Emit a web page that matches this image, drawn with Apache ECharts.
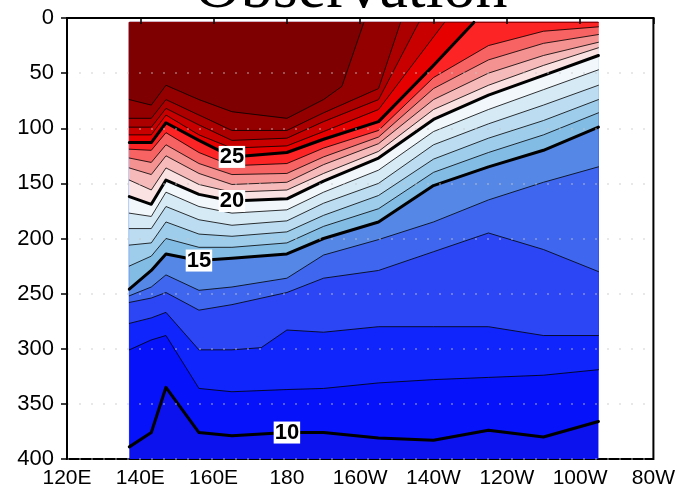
<!DOCTYPE html>
<html>
<head>
<meta charset="utf-8">
<script src="https://cdn.jsdelivr.net/npm/echarts@6/dist/echarts.min.js"></script>
<style>
  html, body { margin: 0; padding: 0; background: #fff; }
  #chart { width: 678px; height: 494px; }
</style>
</head>
<body>
<div id="chart"></div>
<script>
// Equatorial upper-ocean temperature section (deg C): longitude against depth.
// Each isotherm is a list of [longitude (deg E, 0-360), depth (m)] points.
// A point at surfaceDepth marks where the isotherm reaches the surface.
const surfaceDepth = 4;
const bottomDepth = 400;
const westLon = 137;
const eastLon = 265;

const isotherm10 = [[137,389],[143,376],[147,335],[156,376],[165,379],[180,376],[190,376],[205,381],[220,383],[235,374],[250,380],[265,366]];
const isotherm11 = [[137,301],[143,292],[147,288],[156,336],[165,339],[180,337],[190,336],[205,331],[220,328],[235,326],[250,324],[265,319]];
const isotherm12 = [[137,277],[143,272],[147,267],[156,301],[165,301],[173,299],[180,283],[190,285],[205,280],[220,280],[235,280],[250,288],[265,288]];
const isotherm13 = [[137,258],[143,254],[147,249],[156,265],[165,260],[180,249],[190,236],[205,229],[220,212],[235,195],[250,210],[265,230]];
const isotherm14 = [[137,252],[143,244],[147,233],[156,247],[165,244],[180,236],[190,215],[205,201],[220,185],[235,165],[250,149],[265,135]];
const isotherm15 = [[137,246],[143,229],[147,214],[156,220],[165,218],[180,214],[190,200],[205,185],[220,152],[235,135],[250,120],[265,99]];
const isotherm16 = [[137,225],[143,216],[147,200],[156,208],[165,208],[180,204],[190,189],[205,173],[220,140],[235,122],[250,106],[265,86]];
const isotherm17 = [[137,206],[143,204],[147,185],[156,196],[165,198],[180,194],[190,179],[205,161],[220,128],[235,109],[250,93],[265,74]];
const isotherm18 = [[137,191],[143,191],[147,171],[156,183],[165,188],[180,184],[190,168],[205,150],[220,115],[235,96],[250,79],[265,61]];
const isotherm19 = [[137,177],[143,180],[147,158],[156,171],[165,177],[180,174],[190,158],[205,138],[220,103],[235,83],[250,65],[265,47]];
const isotherm20 = [[137,162],[143,169],[147,147],[156,160],[165,166],[180,164],[190,148],[205,127],[220,92],[235,70],[250,52],[265,34]];
const isotherm21 = [[137,147],[143,156],[147,136],[156,151],[165,158],[180,156],[190,141],[205,121],[220,83],[235,61],[250,43],[265,27]];
const isotherm22 = [[137,136],[143,142],[147,125],[156,141],[165,151],[180,149],[190,133],[205,114],[220,74],[235,50],[250,34],[265,22]];
const isotherm23 = [[137,127],[143,131],[147,115],[156,132],[165,142],[180,141],[190,126],[205,108],[220,64],[235,38],[250,23],[265,15]];
const isotherm24 = [[137,119],[143,120],[147,104],[156,122],[165,134],[180,132],[190,118],[205,102],[220,54],[235,25],[250,12],[265,8]];
const isotherm25 = [[137,113],[143,113],[147,95],[156,111],[165,126],[180,122],[190,110],[205,94],[220,43],[231,4]];
const isotherm26 = [[137,106],[143,106],[147,88],[156,106],[165,118],[180,116],[190,103],[205,83],[223,4]];
const isotherm27 = [[137,99],[143,99],[147,82],[156,97],[165,111],[180,109],[190,94],[205,74],[216,4]];
const isotherm28 = [[137,91],[143,91],[147,74],[156,88],[165,102],[180,102],[190,86],[205,64],[211,4]];
const isotherm29 = [[137,74],[143,79],[147,61],[156,74],[165,85],[180,91],[190,74],[195,62],[201,4]];

const levels = [10,11,12,13,14,15,16,17,18,19,20,21,22,23,24,25,26,27,28,29];
const isotherms = [isotherm10,isotherm11,isotherm12,isotherm13,isotherm14,isotherm15,isotherm16,
  isotherm17,isotherm18,isotherm19,isotherm20,isotherm21,isotherm22,isotherm23,isotherm24,
  isotherm25,isotherm26,isotherm27,isotherm28,isotherm29];

// Shading: index 0 is colder than the first level, index i lies between levels[i-1] and levels[i]
const bandColors = [
  '#0c12ee', '#0612fa', '#1024fc', '#2c46f6', '#3f66ee', '#5588e6',
  '#82bce5', '#9ecdeb', '#bcdcf1', '#d6eaf6', '#f2f7fc',
  '#fae2e2', '#f6baba', '#f49292', '#f76262', '#fc2424',
  '#e60000', '#c80000', '#ac0000', '#940000', '#7e0000'
];

// Isotherms drawn heavy and labelled
const majorLevels = [10, 15, 20, 25];
const contourLabels = [[180, 10], [156, 15], [165, 20], [165, 25]];

const xTickLabels = ['120E', '140E', '160E', '180', '160W', '140W', '120W', '100W', '80W'];
const yTickLabels = ['0', '50', '100', '150', '200', '250', '300', '350', '400'];

function spanned(iso) {
  const pts = iso.slice();
  if (pts[0][0] > westLon) pts.unshift([westLon, pts[0][1]]);
  if (pts[pts.length - 1][0] < eastLon) pts.push([eastLon, pts[pts.length - 1][1]]);
  return pts;
}

function depthAt(iso, lon) {
  const pts = spanned(iso);
  for (let j = 0; j < pts.length - 1; j++) {
    const a = pts[j], b = pts[j + 1];
    if (lon >= a[0] && lon <= b[0]) {
      const t = (lon - a[0]) / (b[0] - a[0]);
      return a[1] + t * (b[1] - a[1]);
    }
  }
  return pts[pts.length - 1][1];
}

// Pieces of an isotherm that lie below the surface
function visibleRuns(iso) {
  const pts = spanned(iso);
  const runs = [];
  let cur = [];
  for (let j = 0; j < pts.length - 1; j++) {
    const a = pts[j], b = pts[j + 1];
    if (a[1] > surfaceDepth + 0.01 || b[1] > surfaceDepth + 0.01) {
      if (!cur.length) cur.push(a);
      cur.push(b);
    } else if (cur.length) {
      runs.push(cur);
      cur = [];
    }
  }
  if (cur.length) runs.push(cur);
  return runs;
}

function renderFills(params, api) {
  const children = [];
  const box = [[westLon, surfaceDepth], [eastLon, surfaceDepth], [eastLon, bottomDepth], [westLon, bottomDepth]];
  children.push({ type: 'polygon', shape: { points: box.map(p => api.coord(p)) }, style: { fill: bandColors[0] } });
  // paint from the coldest isotherm upward: each layer covers everything above its isotherm
  isotherms.forEach((iso, i) => {
    const pts = [[westLon, surfaceDepth], [eastLon, surfaceDepth]].concat(spanned(iso).reverse());
    children.push({
      type: 'polygon',
      shape: { points: pts.map(p => api.coord(p)) },
      style: { fill: bandColors[i + 1], stroke: bandColors[i + 1], lineWidth: 0.3 }
    });
  });
  return { type: 'group', children };
}

function renderLines(params, api) {
  const thin = [], thick = [];
  isotherms.forEach((iso, i) => {
    const major = majorLevels.indexOf(levels[i]) >= 0;
    visibleRuns(iso).forEach(run => {
      const el = {
        type: 'polyline',
        shape: { points: run.map(p => api.coord(p)) },
        style: {
          fill: null,
          stroke: major ? '#000' : 'rgba(0,0,0,0.8)',
          lineWidth: major ? 3 : 1,
          lineJoin: 'round',
          lineCap: 'round'
        }
      };
      (major ? thick : thin).push(el);
    });
  });
  return { type: 'group', children: thin.concat(thick) };
}

function renderLabel(params, api) {
  const lon = api.value(0);
  const level = api.value(1);
  const iso = isotherms[levels.indexOf(level)];
  const p = api.coord([lon, depthAt(iso, lon)]);
  return {
    type: 'text',
    x: p[0],
    y: p[1],
    style: {
      text: String(level),
      fill: '#000',
      font: 'bold 22px "Liberation Sans", Arial, sans-serif',
      align: 'center',
      verticalAlign: 'middle',
      backgroundColor: '#fff',
      padding: [0, 1, 0, 1]
    }
  };
}

const chart = echarts.init(document.getElementById('chart'), null, { renderer: 'canvas' });

const axisFont = '"Liberation Sans", Arial, sans-serif';

chart.setOption({
  animation: false,
  backgroundColor: '#fff',
  graphic: [{
    type: 'text',
    x: 351,
    y: -10,
    z: 0,
    style: {
      text: 'Observation',
      font: '64px "Liberation Serif", "Times New Roman", serif',
      fill: '#000',
      align: 'center',
      verticalAlign: 'middle'
    }
  }],
  grid: {
    left: 67, right: 23, top: 18, bottom: 35,
    show: true,
    backgroundColor: '#fff',
    borderColor: '#000',
    borderWidth: 2
  },
  xAxis: {
    type: 'value',
    min: 120, max: 280, interval: 20,
    z: 5,
    axisLine: { show: true, lineStyle: { color: '#000', width: 2 } },
    axisTick: { show: true, inside: false, length: 6, lineStyle: { color: '#000', width: 1.5 } },
    axisLabel: {
      color: '#000', fontSize: 21, fontFamily: axisFont, margin: 9,
      formatter: v => xTickLabels[Math.round((v - 120) / 20)]
    },
    splitLine: { show: false }
  },
  yAxis: {
    type: 'value',
    inverse: true,
    min: 0, max: 400, interval: 50,
    z: 5,
    axisLine: { show: true, lineStyle: { color: '#000', width: 2 } },
    axisTick: { show: true, inside: false, length: 6, lineStyle: { color: '#000', width: 1.5 } },
    axisLabel: {
      color: '#000', fontSize: 22, fontFamily: axisFont, margin: 13,
      formatter: v => yTickLabels[Math.round(v / 50)]
    },
    splitLine: { show: true, lineStyle: { color: 'rgba(200,200,200,0.55)', width: 1.5, type: [2, 10] } }
  },
  series: [
    {
      type: 'custom',
      name: 'shading',
      coordinateSystem: 'cartesian2d',
      clip: false,
      z: 2,
      data: [[westLon, surfaceDepth]],
      renderItem: renderFills
    },
    {
      type: 'custom',
      name: 'isotherms',
      coordinateSystem: 'cartesian2d',
      clip: false,
      z: 3,
      data: [[westLon, surfaceDepth]],
      renderItem: renderLines
    },
    {
      type: 'custom',
      name: 'labels',
      coordinateSystem: 'cartesian2d',
      clip: false,
      z: 10,
      data: contourLabels,
      renderItem: renderLabel
    }
  ]
});
</script>
</body>
</html>
